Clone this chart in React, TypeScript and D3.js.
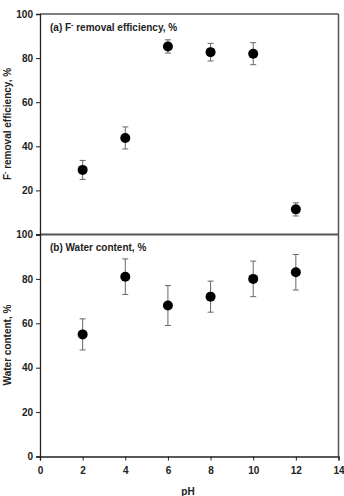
import React, { useRef, useEffect } from 'react';
import * as d3 from 'd3';

const phValues = [2, 4, 6, 8, 10, 12];
const removalEff = [29.3, 43.8, 85.3, 82.7, 82, 11.4];
const removalErr = [4.3, 5, 3, 4, 5, 3];
const waterContent = [55, 81, 68, 72, 80, 83];
const waterErr = [7, 8, 9, 7, 8, 8];
const xTicks = [0, 2, 4, 6, 8, 10, 12, 14];
const topYTicks = [20, 40, 60, 80, 100];
const bottomYTicks = [0, 20, 40, 60, 80, 100];

const W = 344;
const H = 496;
const left = 40;
const right = 338.5;
const top = 14;
const mid = 234.5;
const bottom = 456.5;
const font = "'Liberation Sans', Arial, sans-serif";

const App = () => {
    const svgRef = useRef<SVGSVGElement>(null);

    useEffect(() => {
        const svg = d3.select(svgRef.current);
        svg.selectAll('*').remove();

        const x = d3.scaleLinear().domain([0, 14]).range([left, right]);
        const yTop = d3.scaleLinear().domain([0, 100]).range([mid, top]);
        const yBot = d3.scaleLinear().domain([0, 100]).range([bottom, mid]);

        const panels = [
            { y: yTop, vals: removalEff, errs: removalErr, ticks: topYTicks },
            { y: yBot, vals: waterContent, errs: waterErr, ticks: bottomYTicks },
        ];

        // frame lines
        svg.append('line').attr('x1', left).attr('x2', right).attr('y1', top).attr('y2', top)
            .attr('stroke', '#555').attr('stroke-width', 1.5);
        svg.append('line').attr('x1', left).attr('x2', right).attr('y1', mid).attr('y2', mid)
            .attr('stroke', '#555').attr('stroke-width', 2);
        svg.append('line').attr('x1', right).attr('x2', right).attr('y1', top).attr('y2', bottom)
            .attr('stroke', '#555').attr('stroke-width', 1.5);

        panels.forEach((p) => {
            const yAxis = d3.axisLeft(p.y).tickValues(p.ticks).tickSize(4).tickPadding(3)
                .tickFormat(d3.format('d'));
            const g = svg.append('g').attr('transform', `translate(${left},0)`).call(yAxis);
            g.select('.domain').attr('stroke', '#222').attr('stroke-width', 1.3);
            g.selectAll('.tick line').attr('stroke', '#222');
            g.selectAll('.tick text').attr('font-family', font).attr('font-size', 10)
                .attr('font-weight', 'bold').attr('fill', '#222');

            const pts = phValues.map((ph, i) => ({ ph, v: p.vals[i], e: p.errs[i] }));
            const eb = svg.append('g').attr('stroke', '#666').attr('stroke-width', 1);
            pts.forEach((d) => {
                const cx = x(d.ph);
                eb.append('line').attr('x1', cx).attr('x2', cx)
                    .attr('y1', p.y(d.v + d.e)).attr('y2', p.y(d.v - d.e));
                eb.append('line').attr('x1', cx - 3).attr('x2', cx + 3)
                    .attr('y1', p.y(d.v + d.e)).attr('y2', p.y(d.v + d.e));
                eb.append('line').attr('x1', cx - 3).attr('x2', cx + 3)
                    .attr('y1', p.y(d.v - d.e)).attr('y2', p.y(d.v - d.e));
            });
            svg.append('g').selectAll('circle').data(pts).enter().append('circle')
                .attr('cx', (d) => x(d.ph)).attr('cy', (d) => p.y(d.v))
                .attr('r', 5).attr('fill', '#000');
        });

        const xAxis = d3.axisBottom(x).tickValues(xTicks).tickSize(4).tickPadding(6)
            .tickFormat(d3.format('d'));
        const gx = svg.append('g').attr('transform', `translate(0,${bottom})`).call(xAxis);
        gx.select('.domain').attr('stroke', '#222').attr('stroke-width', 1.3);
        gx.selectAll('.tick line').attr('stroke', '#222');
        gx.selectAll('.tick text').attr('font-family', font).attr('font-size', 10)
            .attr('font-weight', 'bold').attr('fill', '#222');

        const txt = (s: any) => s.attr('font-family', font).attr('font-weight', 'bold').attr('fill', '#222');

        const t1 = svg.append('text').attr('x', 50).attr('y', 31).attr('font-size', 10).call(txt);
        t1.append('tspan').text('(a) F');
        t1.append('tspan').attr('dy', -4).attr('font-size', 7).text('-');
        t1.append('tspan').attr('dy', 4).text(' removal efficiency, %');

        svg.append('text').attr('x', 50).attr('y', 251).attr('font-size', 10).call(txt)
            .text('(b) Water content, %');

        const yl1 = svg.append('text').attr('transform', `translate(11,124) rotate(-90)`)
            .attr('text-anchor', 'middle').attr('font-size', 10).call(txt);
        yl1.append('tspan').text('F');
        yl1.append('tspan').attr('dy', -4).attr('font-size', 7).text('-');
        yl1.append('tspan').attr('dy', 4).text(' removal efficiency, %');

        svg.append('text').attr('transform', `translate(11,345) rotate(-90)`)
            .attr('text-anchor', 'middle').attr('font-size', 10).call(txt).text('Water content, %');

        svg.append('text').attr('x', 188).attr('y', 495).attr('text-anchor', 'middle')
            .attr('font-size', 10).call(txt).text('pH');
    }, []);

    return (
        <svg ref={svgRef} width={W} height={H}
            style={{ position: 'absolute', left: 0, top: 0, background: '#fff' }}></svg>
    );
};

export default App;
